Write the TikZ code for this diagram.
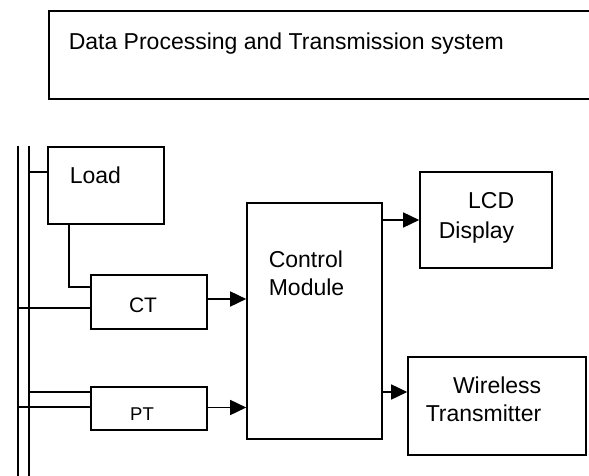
\documentclass[tikz,border=0pt]{standalone}
\usepackage{fontspec}
\setmainfont{Liberation Sans}
\usepackage{tikz}
\usetikzlibrary{arrows.meta}

\begin{document}
\begin{tikzpicture}[x=1pt, y=-1pt, line width=1.6pt,
        blk/.style={draw, rectangle, inner sep=0pt},
        txt/.style={inner sep=0pt, font=\fontsize{23}{28}\selectfont},
        arr/.style={-{Triangle[length=16pt, width=15pt]}}]
    \useasboundingbox (0, 0) rectangle (589, 476);

    \node[blk, minimum width=551pt, minimum height=88pt] (title) at (324.5, 55) {};
    \node[txt, anchor=base west] (titletxt) at (68, 50) {Data Processing and Transmission system};

    \coordinate (outbus) at (17.7, 146);
    \coordinate (inbus) at (29, 146);

    \node[blk, minimum width=116pt, minimum height=77pt] (load) at (106, 185.5) {};
    \node[txt, anchor=base west] (loadtxt) at (69, 183) {Load};
    \node[blk, minimum width=116pt, minimum height=54pt] (ct) at (149, 302) {};
    \node[txt, anchor=base, font=\fontsize{21}{25}\selectfont] (cttxt) at (143, 312) {CT};
    \node[blk, minimum width=116pt, minimum height=43pt] (pt) at (149, 408.5) {};
    \node[txt, anchor=base, font=\fontsize{18.5}{22}\selectfont] (pttxt) at (142, 420) {PT};

    \node[blk, minimum width=135pt, minimum height=236pt] (ctrl) at (314.5, 321) {};
    % last line sits on the base anchor
    \node[txt, anchor=base west, align=left] (ctrltxt) at (268, 295) {Control\\Module};

    \node[blk, minimum width=132pt, minimum height=96pt] (lcd) at (486, 220) {};
    \node[txt, anchor=base east, align=right] (lcdtxt) at (515, 238) {LCD\\[2pt]Display};
    \node[blk, minimum width=178pt, minimum height=98pt] (wl) at (497, 406) {};
    \node[txt, anchor=base east, align=right] (wltxt) at (542, 421) {Wireless\\Transmitter};

    \draw
    (outbus) -- ++(0, 340)
    (inbus) -- ++(0, 340)
    ([yshift=13.5pt]load.west) -- ([yshift=13.5pt]load.west -| inbus)
    ([xshift=22pt]load.south west) |- ([yshift=15pt]ct.west)
    ([yshift=-6pt]ct.west) -- ([yshift=-6pt]ct.west -| outbus)
    ([yshift=16.5pt]pt.west) -- ([yshift=16.5pt]pt.west -| inbus)
    ([yshift=1.5pt]pt.west) -- ([yshift=1.5pt]pt.west -| outbus)
    ;

    \draw[arr] ([yshift=3pt]ct.east) -- ([yshift=3pt]ct.east -| ctrl.west);
    \draw[arr] ([yshift=1pt]pt.east) -- ([yshift=1pt]pt.east -| ctrl.west);
    \draw[arr] (lcd.west -| ctrl.east) -- (lcd.west);
    \draw[arr] ([yshift=14pt]wl.west -| ctrl.east) -- ([yshift=14pt]wl.west);
\end{tikzpicture}
\end{document}
